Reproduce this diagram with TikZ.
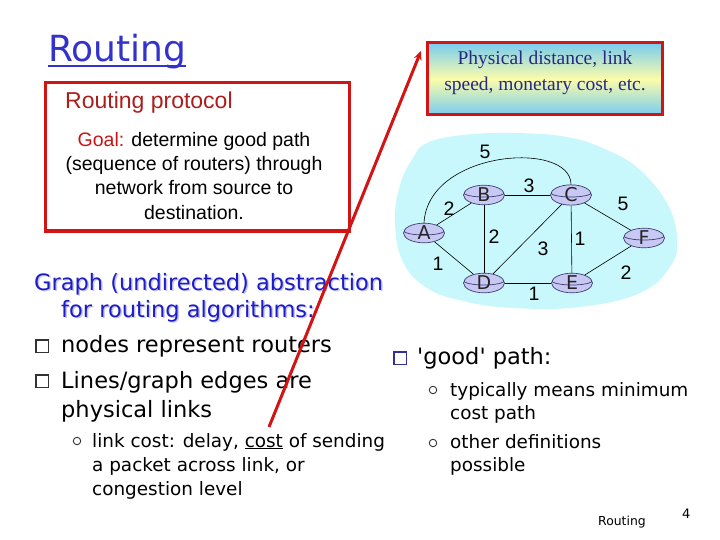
\documentclass[tikz,border=0pt]{standalone}
\usepackage{fontspec}
\setmainfont{Liberation Sans}
\newfontfamily\comic{DejaVu Sans}
\newfontfamily\timesf{Liberation Serif}
\usetikzlibrary{shapes.geometric,arrows.meta}
\definecolor{boxred}{RGB}{210,20,20}
\definecolor{protored}{RGB}{170,30,30}
\definecolor{goalred}{RGB}{200,20,20}
\definecolor{titleblue}{RGB}{51,51,204}
\definecolor{graphblue}{RGB}{28,28,200}
\definecolor{shadowc}{RGB}{200,200,230}
\definecolor{cloudc}{RGB}{200,248,252}
\definecolor{routerfill}{RGB}{200,200,245}
\definecolor{routerline}{RGB}{60,60,110}
\definecolor{phystext}{RGB}{40,40,130}
\definecolor{gradblue}{RGB}{120,205,240}
\definecolor{gradyellow}{RGB}{252,252,170}
\definecolor{bulletblue}{RGB}{50,50,150}
\begin{document}
\begin{tikzpicture}[x=1pt,y=-1pt,
  txt/.style={anchor=base west,inner sep=0pt},
  ctxt/.style={anchor=base,inner sep=0pt},
  bodytext/.style={txt,font=\comic\fontsize{22.5}{27}\selectfont},
  subtext/.style={txt,font=\comic\fontsize{18.4}{22}\selectfont},
  bluetext/.style={txt,font=\comic\fontsize{22.5}{27}\selectfont,text=graphblue},
  shadowtext/.style={txt,font=\comic\fontsize{22.5}{27}\selectfont,text=shadowc},
  sqbullet/.style={draw=#1,line width=1.5pt,minimum size=12.5pt,inner sep=0pt,fill=white},
  circbullet/.style={circle,draw=black!80,line width=0.9pt,minimum size=7.5pt,inner sep=0pt},
  redframe/.style={draw=boxred,line width=3pt},
  router/.style={ellipse,minimum width=41pt,minimum height=17pt,inner sep=0pt,
     fill=routerfill,draw=routerline,line width=0.7pt,text=black!85,
     font=\comic\fontsize{19}{19}\selectfont,
     path picture={\draw[routerline,line width=0.7pt]
        ([yshift=2.5pt]path picture bounding box.west) arc[start angle=180,end angle=360,x radius=20.5pt,y radius=4.5pt];}},
  link/.style={draw=black,line width=0.6pt},
  cost/.style={inner sep=0pt,font=\fontsize{19.5}{19.5}\selectfont}
]
\useasboundingbox (0,0) rectangle (720,540);

% title
\node[txt,font=\comic\fontsize{36}{40}\selectfont,text=titleblue] (title) at (48,62) {Routing};
\draw[titleblue,line width=2pt] ([yshift=-4.5pt]title.base west) -- ([yshift=-4.5pt]title.base east);

% routing protocol box
\draw[redframe] (45,83) rectangle (349,231);
\node[txt,font=\fontsize{23}{26}\selectfont,text=protored] (proto) at (65,109) {Routing protocol};
\node[ctxt,font=\fontsize{19.5}{24}\selectfont] (g1) at (194,147) {\textcolor{goalred}{Goal:} determine good path};
\node[ctxt,font=\fontsize{19.5}{24}\selectfont] (g2) at (194,171) {(sequence of routers) through};
\node[ctxt,font=\fontsize{19.5}{24}\selectfont] (g3) at (194,195) {network from source to};
\node[ctxt,font=\fontsize{19.5}{24}\selectfont] (g4) at (194,219) {destination.};

% physical distance box
\draw[redframe,top color=gradblue,bottom color=gradblue,middle color=gradyellow] (427,43) rectangle (662,115);
\node[ctxt,font=\timesf\fontsize{19.5}{24}\selectfont,text=phystext] (p1) at (545,65) {Physical distance, link};
\node[ctxt,font=\timesf\fontsize{19.5}{24}\selectfont,text=phystext] (p2) at (545,91) {speed, monetary cost, etc.};

% cloud
\fill[cloudc] plot[smooth cycle,tension=0.7] coordinates {(427,143) (463,135) (513,133) (567,137) (607,150) (640,170) (668,205) (677,240) (670,267) (640,293) (580,307) (513,308) (463,301) (427,288) (403,262) (395,222) (400,185) (413,158)};

% routers
\node[router] (A) at (424,233) {A};
\node[router] (B) at (484,195) {B};
\node[router] (C) at (571,195) {C};
\node[router] (D) at (484,283) {D};
\node[router] (E) at (572,283) {E};
\node[router] (F) at (644,238) {F};

% links
\draw[link] (A.north) .. controls (428,150) and (571,140) .. (C.north);
\draw[link] (A) -- (B);
\draw[link] (A) -- (D);
\draw[link] (B) -- (C);
\draw[link] (B) -- (D);
\draw[link] (C) -- (D);
\draw[link] (C) -- (E);
\draw[link] (C) -- (F);
\draw[link] (D) -- (E);
\draw[link] (E) -- (F);

% costs
\node[cost] (cAC) at (485,152) {5};
\node[cost] (cBC) at (529,186) {3};
\node[cost] (cAB) at (449,209) {2};
\node[cost] (cBD) at (494,237) {2};
\node[cost] (cCD) at (543,249) {3};
\node[cost] (cCE) at (580,239) {1};
\node[cost] (cCF) at (623,204) {5};
\node[cost] (cAD) at (438,264) {1};
\node[cost] (cDE) at (534,294) {1};
\node[cost] (cEF) at (626,273) {2};

% graph abstraction text
\node[shadowtext] at (35.5,291.5) {Graph (undirected) abstraction};
\node[shadowtext] at (62.5,318.5) {for routing algorithms:};
\node[bluetext] (gr1) at (34,290) {Graph (undirected) abstraction};
\node[bluetext] (gr2) at (61,317) {for routing algorithms:};

\node[sqbullet=black!80] (b1) at (42,346) {};
\node[bodytext] (t1) at (61,352) {nodes represent routers};
\node[sqbullet=black!80] (b2) at (42,381) {};
\node[bodytext] (t2) at (61,388) {Lines/graph edges are};
\node[bodytext] (t3) at (61,417) {physical links};
\node[circbullet] (s1) at (77,441) {};
\node[subtext] (u1) at (92,447) {link cost: delay, \underline{cost} of sending};
\node[subtext] (u2) at (92,471) {a packet across link, or};
\node[subtext] (u3) at (92,495) {congestion level};

% right text
\node[sqbullet=bulletblue] (b3) at (400,358) {};
\node[bodytext] (t4) at (417,364) {'good' path:};
\node[circbullet] (s2) at (433,390) {};
\node[subtext] (v1) at (450,396) {typically means minimum};
\node[subtext] (v2) at (450,419) {cost path};
\node[circbullet] (s3) at (433,443) {};
\node[subtext] (v3) at (450,448) {other definitions};
\node[subtext] (v4) at (450,471) {possible};

% footer
\node[txt,font=\comic\fontsize{12.4}{14}\selectfont] (foot) at (598,525) {Routing};
\node[txt,font=\comic\fontsize{13}{14}\selectfont] (num) at (682,518) {4};

% red arrow
\coordinate (arrstart) at (269,427);
\coordinate (arrend) at (421,51);
\draw[draw=boxred,line width=3pt,-{Stealth[length=9pt,width=8pt]}] (arrstart) -- (arrend);
\end{tikzpicture}
\end{document}
